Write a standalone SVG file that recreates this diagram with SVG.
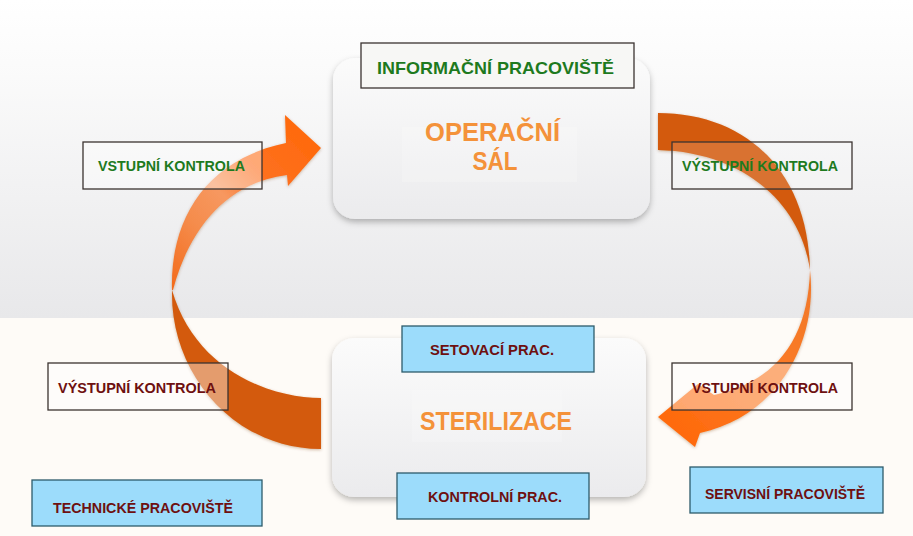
<svg xmlns="http://www.w3.org/2000/svg" width="913" height="536" viewBox="0 0 913 536">
<defs>
  <linearGradient id="bgTop" x1="0" y1="0" x2="0" y2="1">
    <stop offset="0" stop-color="#ffffff"/>
    <stop offset="0.2" stop-color="#fbfbfb"/>
    <stop offset="1" stop-color="#e8e8ea"/>
  </linearGradient>
  <linearGradient id="nodeFill" x1="0" y1="0" x2="0" y2="1">
    <stop offset="0" stop-color="#fbfbfb"/>
    <stop offset="1" stop-color="#ebebed"/>
  </linearGradient>
  <linearGradient id="lUp" gradientUnits="userSpaceOnUse" x1="172" y1="290" x2="321" y2="148">
    <stop offset="0" stop-color="#f36a1a"/>
    <stop offset="0.3" stop-color="#f58c4c"/>
    <stop offset="0.5" stop-color="#f79860"/>
    <stop offset="0.7" stop-color="#fd7020"/>
    <stop offset="1" stop-color="#ff6a0c"/>
  </linearGradient>
  <linearGradient id="rLow" gradientUnits="userSpaceOnUse" x1="810" y1="270" x2="658" y2="417">
    <stop offset="0" stop-color="#f0782a"/>
    <stop offset="0.4" stop-color="#fa7a26"/>
    <stop offset="1" stop-color="#ff6a0c"/>
  </linearGradient>
  <filter id="shadow" x="-10%" y="-10%" width="120%" height="130%">
    <feDropShadow dx="0" dy="3" stdDeviation="3" flood-color="#000" flood-opacity="0.28"/>
  </filter>
  <filter id="ashadow" x="-10%" y="-10%" width="120%" height="120%">
    <feDropShadow dx="0" dy="1" stdDeviation="1.5" flood-color="#7a3a10" flood-opacity="0.35"/>
  </filter>
  <style>
    .node { fill: url(#nodeFill); filter: url(#shadow); }
    .label { fill: #ffffff; fill-opacity: 0.4; stroke: #3b3330; stroke-width: 1.3; }
    .blue { fill: #9cdcfb; stroke: #2d5b6b; stroke-width: 1.3; }
    .t { font-family: "Liberation Sans", Arial, sans-serif; font-weight: bold; text-anchor: middle; }
    .green { fill: #1e7a1e; font-size: 15px; }
    .red { fill: #6e1010; font-size: 15px; }
    .big { fill: #f4923a; font-size: 26px; }
    .dark { fill: #d35a0b; }
  </style>
</defs>

<rect x="0" y="0" width="913" height="318" fill="url(#bgTop)"/>
<rect x="0" y="318" width="913" height="218" fill="#fefbf7"/>

<g id="connectors" filter="url(#ashadow)">
  <g id="arrow-left">
    <path class="dark" d="M 321 398 C 270 398, 195 370, 172 290 C 170 370, 230 448, 321 449 Z"/>
    <path fill="url(#lUp)" d="M 172 290 C 170 220, 205 160, 286 143 L 285 115 L 321 148 L 288 186 L 287 175 C 230 182, 190 225, 173 290 Z"/>
  </g>
  <g id="arrow-right">
    <path class="dark" d="M 658 113 C 745 113, 808 170, 810 270 C 800 200, 740 152, 658 150 Z"/>
    <path fill="url(#rLow)" d="M 810 270 C 818 340, 780 415, 700 433 L 695 447 L 658 417 L 698 384 L 714 395 C 775 382, 808 340, 810 270 Z"/>
  </g>
</g>

<g id="operacni-sal">
  <rect class="node" x="333" y="58" width="317" height="161" rx="22"/>
  <rect x="402" y="127" width="175" height="55" fill="#ffffff" fill-opacity="0.18"/>
  <text class="t big" x="492.5" y="141" textLength="135" lengthAdjust="spacingAndGlyphs">OPERAČNÍ</text>
  <text class="t big" x="495" y="170" textLength="45" lengthAdjust="spacingAndGlyphs">SÁL</text>
</g>

<g id="informacni">
  <rect x="361" y="43" width="273" height="45" fill="#f7f7f5" stroke="#3b3330" stroke-width="1.3"/>
  <text class="t green" style="font-size:17px" x="495.5" y="74" textLength="237" lengthAdjust="spacingAndGlyphs">INFORMAČNÍ PRACOVIŠTĚ</text>
</g>

<g id="sterilizace">
  <rect class="node" x="332" y="338" width="314" height="159" rx="22"/>
  <rect x="412" y="390" width="150" height="52" fill="#ffffff" fill-opacity="0.18"/>
  <text class="t big" x="496" y="430" textLength="152" lengthAdjust="spacingAndGlyphs">STERILIZACE</text>
</g>

<g id="setovaci">
  <rect class="blue" x="402" y="326" width="192" height="46"/>
  <text class="t red" x="492" y="355" textLength="124" lengthAdjust="spacingAndGlyphs">SETOVACÍ PRAC.</text>
</g>

<g id="kontrolni">
  <rect class="blue" x="397" y="473" width="192" height="46"/>
  <text class="t red" x="495" y="502" textLength="134" lengthAdjust="spacingAndGlyphs">KONTROLNÍ PRAC.</text>
</g>

<g id="vstupni-top">
  <rect class="label" x="83" y="142" width="179" height="47"/>
  <text class="t green" x="171.5" y="171" textLength="147" lengthAdjust="spacingAndGlyphs">VSTUPNÍ KONTROLA</text>
</g>

<g id="vystupni-top">
  <rect class="label" style="fill-opacity:0.15" x="672" y="142" width="180" height="47"/>
  <text class="t green" x="760" y="171" textLength="156" lengthAdjust="spacingAndGlyphs">VÝSTUPNÍ KONTROLA</text>
</g>

<g id="vystupni-bottom">
  <rect class="label" x="48" y="363" width="180" height="47"/>
  <text class="t red" x="137" y="393" textLength="158" lengthAdjust="spacingAndGlyphs">VÝSTUPNÍ KONTROLA</text>
</g>

<g id="vstupni-bottom">
  <rect class="label" x="672" y="363" width="180" height="47"/>
  <text class="t red" x="765" y="393" textLength="146" lengthAdjust="spacingAndGlyphs">VSTUPNÍ KONTROLA</text>
</g>

<g id="technicke">
  <rect class="blue" x="32" y="480" width="230" height="46"/>
  <text class="t red" x="143" y="513" textLength="180" lengthAdjust="spacingAndGlyphs">TECHNICKÉ PRACOVIŠTĚ</text>
</g>

<g id="servisni">
  <rect class="blue" x="690" y="467" width="193" height="46"/>
  <text class="t red" x="785" y="499" textLength="160" lengthAdjust="spacingAndGlyphs">SERVISNÍ PRACOVIŠTĚ</text>
</g>
</svg>
